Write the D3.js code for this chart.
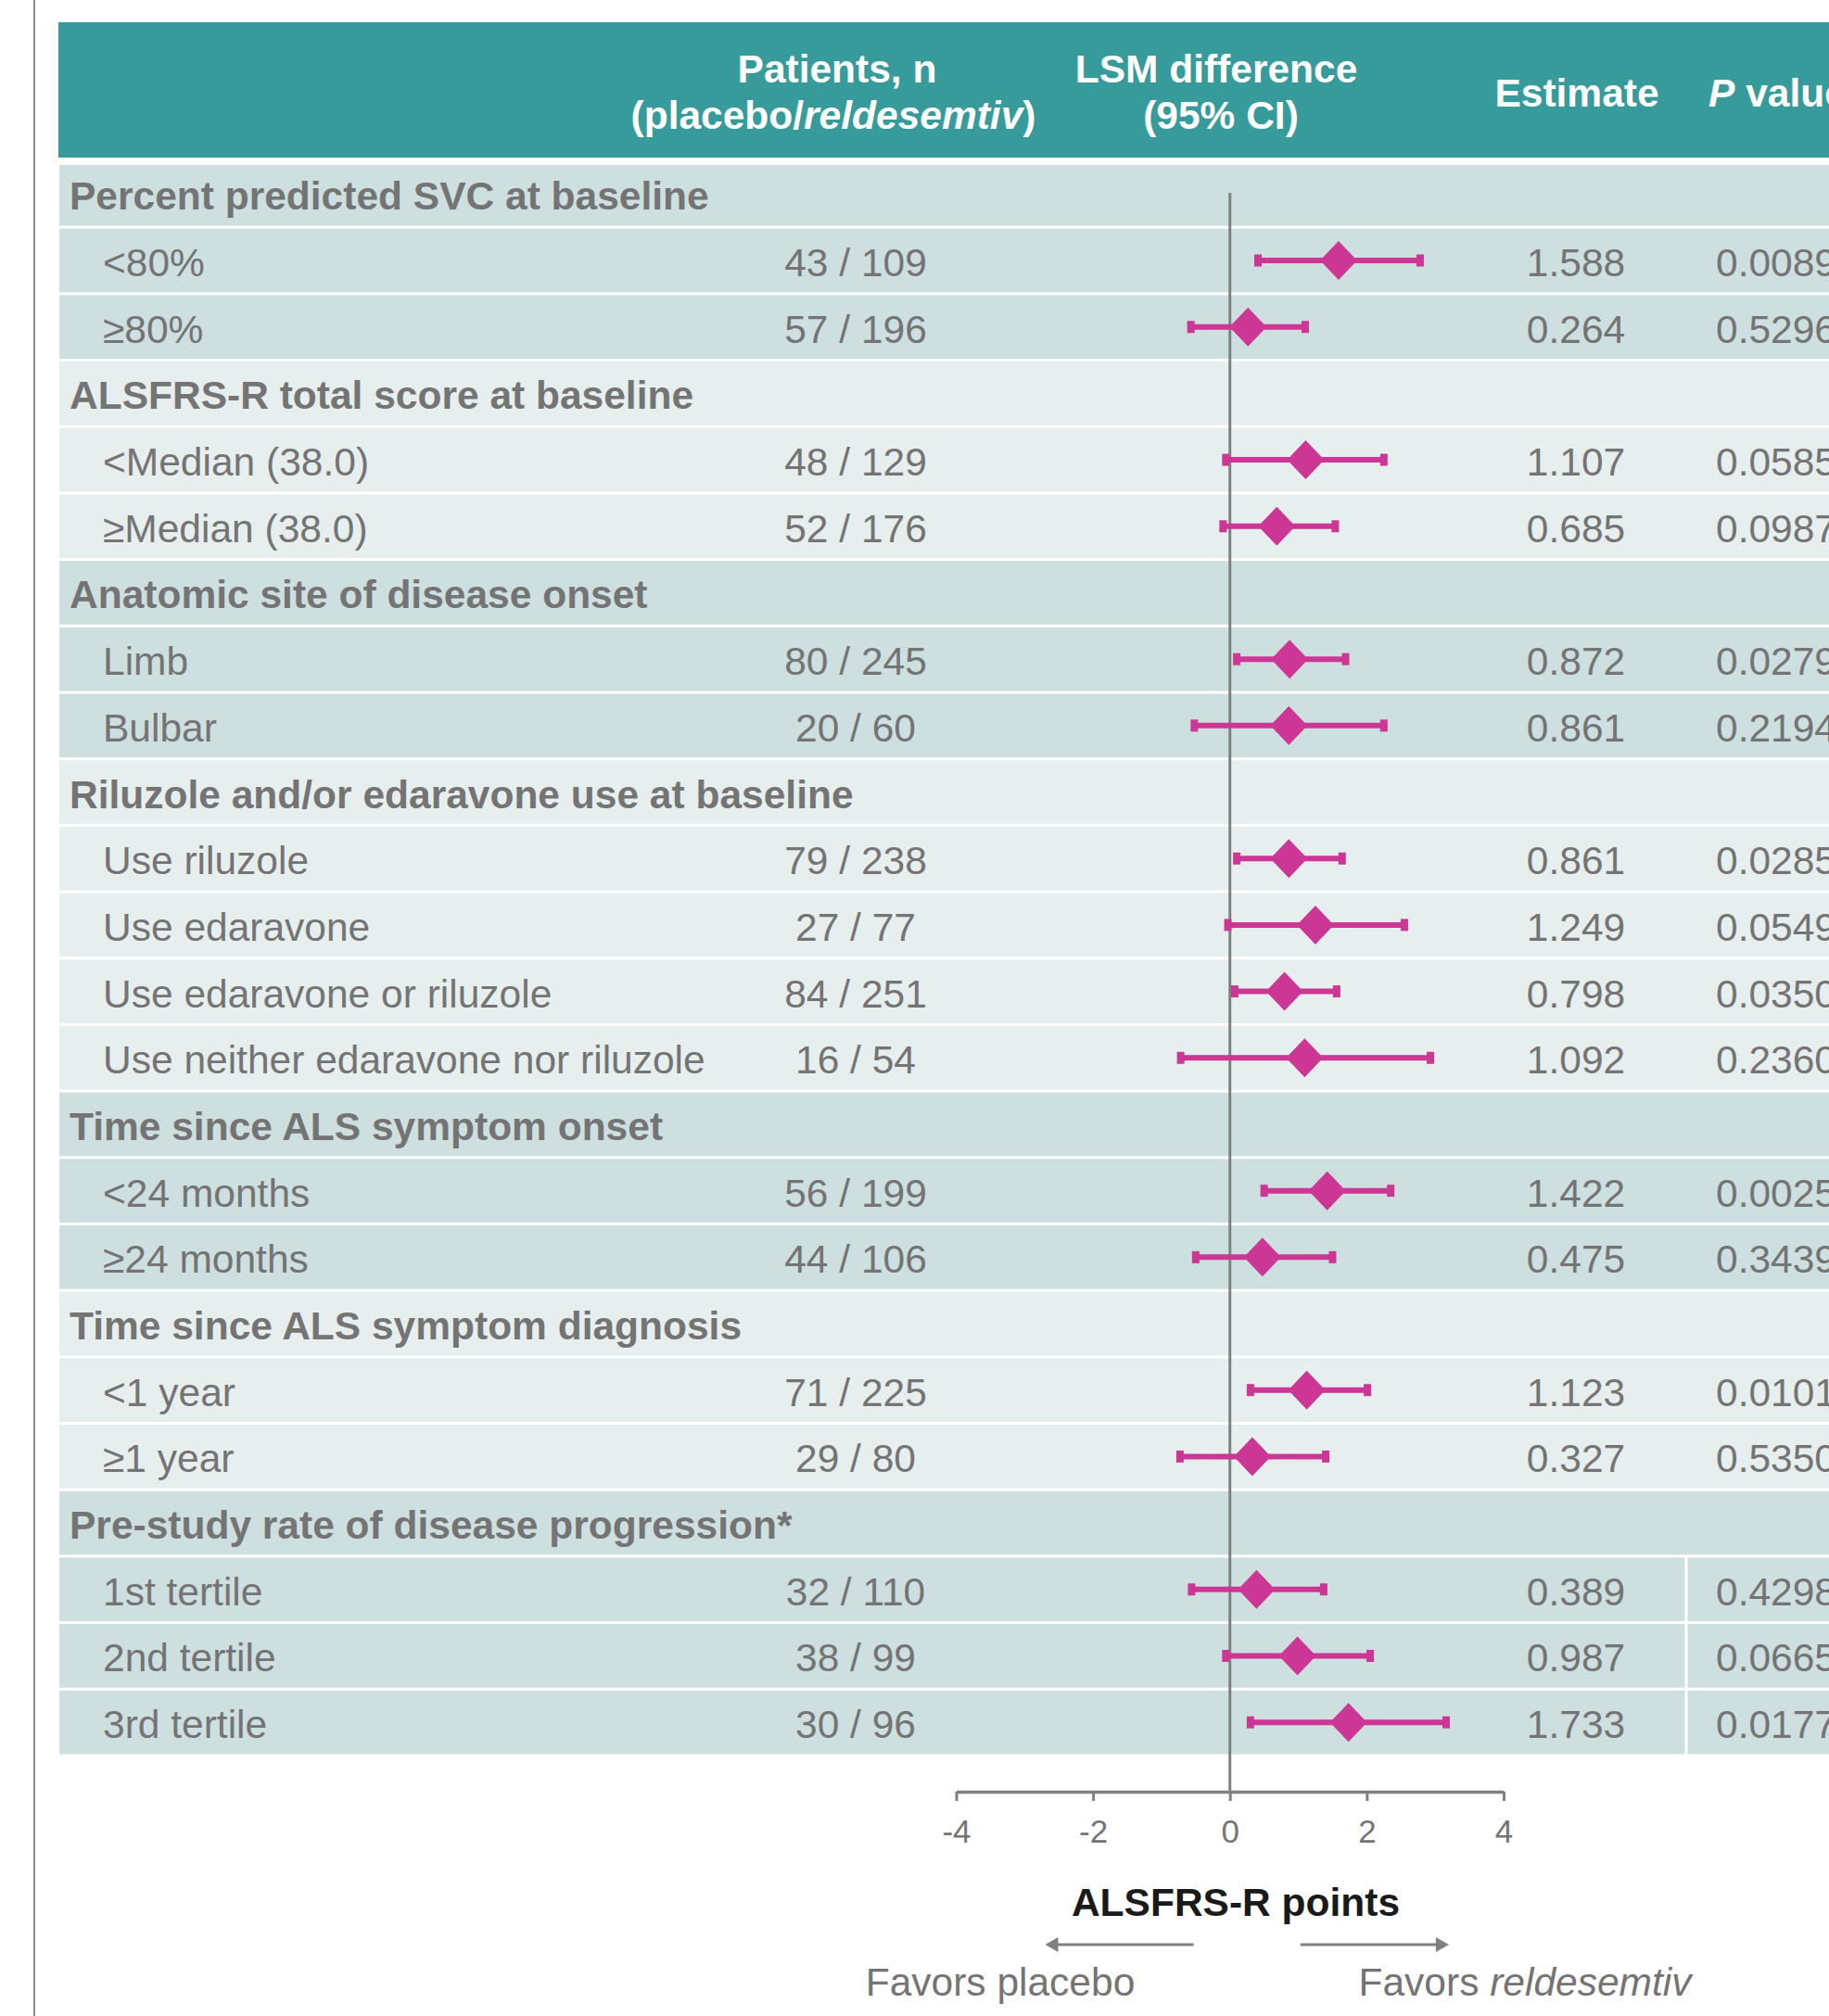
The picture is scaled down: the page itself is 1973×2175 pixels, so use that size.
<!DOCTYPE html>
<html>
<head>
<meta charset="utf-8">
<script src="https://cdn.jsdelivr.net/npm/d3@7"></script>
<style>
  body { margin: 0; background: #fff; }
  svg { display: block; font-family: "Liberation Sans", Arial, sans-serif; }
</style>
</head>
<body>
<svg id="chart"></svg>
<script>
// subgroup data
const sections = [
  "Percent predicted SVC at baseline",
  "ALSFRS-R total score at baseline",
  "Anatomic site of disease onset",
  "Riluzole and/or edaravone use at baseline",
  "Time since ALS symptom onset",
  "Time since ALS symptom diagnosis",
  "Pre-study rate of disease progression*"
];
const sectionOf = [0, 0, 1, 1, 2, 2, 3, 3, 3, 3, 4, 4, 5, 5, 6, 6, 6];
const labels = [
  "<80%", "≥80%", "<Median (38.0)", "≥Median (38.0)", "Limb", "Bulbar",
  "Use riluzole", "Use edaravone", "Use edaravone or riluzole",
  "Use neither edaravone nor riluzole", "<24 months", "≥24 months",
  "<1 year", "≥1 year", "1st tertile", "2nd tertile", "3rd tertile"
];
const patients = [
  "43 / 109", "57 / 196", "48 / 129", "52 / 176", "80 / 245", "20 / 60",
  "79 / 238", "27 / 77", "84 / 251", "16 / 54", "56 / 199", "44 / 106",
  "71 / 225", "29 / 80", "32 / 110", "38 / 99", "30 / 96"
];
const estimates = [1.588, 0.264, 1.107, 0.685, 0.872, 0.861, 0.861, 1.249, 0.798,
  1.092, 1.422, 0.475, 1.123, 0.327, 0.389, 0.987, 1.733];
const ciLow = [0.41, -0.57, -0.06, -0.10, 0.10, -0.52, 0.10, -0.03, 0.07,
  -0.72, 0.50, -0.50, 0.30, -0.73, -0.56, -0.06, 0.30];
const ciHigh = [2.78, 1.10, 2.25, 1.54, 1.69, 2.25, 1.64, 2.55, 1.56,
  2.93, 2.35, 1.50, 2.01, 1.40, 1.37, 2.05, 3.16];
const pValues = ["0.0089", "0.5296", "0.0585", "0.0987", "0.0279", "0.2194",
  "0.0285", "0.0549", "0.0350", "0.2360", "0.0025", "0.3439", "0.0101",
  "0.5350", "0.4298", "0.0665", "0.0177"];
const xTicks = [-4, -2, 0, 2, 4];

const W = 1973, H = 2175;
const teal = "#369b9a", dark = "#cddfdf", light = "#e6efee";
const grey = "#747474", magenta = "#cc3694", lineGrey = "#808080";
const fs = 42.5;

// flatten into table rows: section header then its subgroups
let rows = [];
sections.forEach(function(s, si) {
  rows.push({ type: "section", label: s, sec: si });
  sectionOf.forEach(function(g, i) {
    if (g == si) rows.push({ type: "sub", label: labels[i], sec: si, idx: i });
  });
});

const svg = d3.select("#chart").attr("width", W).attr("height", H);

const x = d3.scaleLinear().domain([-4, 4]).range([1031.5, 1622]);
const y = d3.scaleBand().domain(d3.range(rows.length)).range([173.5, 1894]).padding(0);
const bh = y.bandwidth();

// left border line
svg.append("line").attr("x1", 37).attr("x2", 37).attr("y1", 0).attr("y2", H)
  .attr("stroke", "#8a8a8a").attr("stroke-width", 2);

// header band
svg.append("rect").attr("x", 63).attr("y", 24).attr("width", W - 63).attr("height", 146)
  .attr("fill", teal);

const hdr = svg.append("g").attr("fill", "#fff").attr("font-weight", "bold").attr("font-size", fs);
hdr.append("text").attr("x", 903).attr("y", 89).attr("text-anchor", "middle").text("Patients, n");
let t2 = hdr.append("text").attr("x", 899).attr("y", 139).attr("text-anchor", "middle");
t2.append("tspan").text("(placebo/");
t2.append("tspan").attr("font-style", "italic").text("reldesemtiv");
t2.append("tspan").text(")");
hdr.append("text").attr("x", 1312).attr("y", 89).attr("text-anchor", "middle").text("LSM difference");
hdr.append("text").attr("x", 1317).attr("y", 139).attr("text-anchor", "middle").text("(95% CI)");
hdr.append("text").attr("x", 1701).attr("y", 115).attr("text-anchor", "middle").text("Estimate");
let pv = hdr.append("text").attr("x", 1843).attr("y", 115);
pv.append("tspan").attr("font-style", "italic").text("P");
pv.append("tspan").text(" value");

// row backgrounds
svg.append("g").selectAll("rect").data(rows).enter().append("rect")
  .attr("x", 64)
  .attr("y", (d, i) => i == 0 ? 178 : y(i) + 1.5)
  .attr("width", W - 64)
  .attr("height", (d, i) => i == 0 ? y(i) + bh - 1.5 - 178 : bh - 3)
  .attr("fill", d => d.sec % 2 == 0 ? dark : light);

// white divider in P value column for the tertile rows
const tert = rows.map((d, i) => i).filter(i => rows[i].type == "sub" && rows[i].sec == 6);
svg.append("line")
  .attr("x1", 1819).attr("x2", 1819)
  .attr("y1", y(tert[0])).attr("y2", y(tert[tert.length - 1]) + bh)
  .attr("stroke", "#fff").attr("stroke-width", 3);

// row texts
const txt = svg.append("g").attr("fill", grey).attr("font-size", fs);
rows.forEach(function(d, i) {
  let base = y(i) + bh / 2 + 17;
  if (d.type == "section") {
    txt.append("text").attr("x", 75).attr("y", base).attr("font-weight", "bold").text(d.label);
  } else {
    txt.append("text").attr("x", 111).attr("y", base).text(d.label);
    txt.append("text").attr("x", 923).attr("y", base).attr("text-anchor", "middle").text(patients[d.idx]);
    txt.append("text").attr("x", 1700).attr("y", base).attr("text-anchor", "middle").text(estimates[d.idx].toFixed(3));
    txt.append("text").attr("x", 1851).attr("y", base).text(pValues[d.idx]);
  }
});

// zero reference line
svg.append("line").attr("x1", x(0)).attr("x2", x(0)).attr("y1", 208).attr("y2", 1933)
  .attr("stroke", lineGrey).attr("stroke-width", 3);

// CI whiskers, caps and diamonds
const subs = rows.map((d, i) => ({ d: d, i: i })).filter(r => r.d.type == "sub");
const marks = svg.append("g").selectAll("g").data(subs).enter().append("g")
  .attr("transform", r => `translate(0,${y(r.i) + bh / 2})`);
marks.append("line")
  .attr("x1", r => x(ciLow[r.d.idx])).attr("x2", r => x(ciHigh[r.d.idx]))
  .attr("stroke", magenta).attr("stroke-width", 6);
marks.append("rect").attr("x", r => x(ciLow[r.d.idx]) - 4).attr("y", -6.5)
  .attr("width", 8).attr("height", 13).attr("fill", magenta);
marks.append("rect").attr("x", r => x(ciHigh[r.d.idx]) - 4).attr("y", -6.5)
  .attr("width", 8).attr("height", 13).attr("fill", magenta);
marks.append("path")
  .attr("d", r => {
    let cx = x(estimates[r.d.idx]);
    return `M${cx - 20},0L${cx},-21L${cx + 20},0L${cx},21Z`;
  })
  .attr("fill", magenta);

// x axis
const axis = svg.append("g").attr("transform", "translate(0,1933)")
  .call(d3.axisBottom(x).tickValues(xTicks).tickSize(10).tickSizeOuter(0)
    .tickPadding(20).tickFormat(d => String(d)));
axis.select(".domain").attr("stroke", lineGrey).attr("stroke-width", 3.5);
axis.selectAll(".tick line").attr("stroke", lineGrey).attr("stroke-width", 3);
axis.selectAll(".tick text").attr("fill", grey).attr("font-size", 35)
  .attr("font-family", "'Liberation Sans', Arial, sans-serif");

svg.append("text").attr("x", 1333).attr("y", 2067).attr("text-anchor", "middle")
  .attr("font-size", fs).attr("font-weight", "bold").attr("fill", "#1a1a1a")
  .text("ALSFRS-R points");

// favour arrows
const ay = 2098;
svg.append("line").attr("x1", x(-0.53)).attr("x2", x(-2.6)).attr("y1", ay).attr("y2", ay)
  .attr("stroke", lineGrey).attr("stroke-width", 3);
svg.append("path").attr("d", `M${x(-2.7)},${ay}l14,-8v16z`).attr("fill", lineGrey);
svg.append("line").attr("x1", x(1.03)).attr("x2", x(3.1)).attr("y1", ay).attr("y2", ay)
  .attr("stroke", lineGrey).attr("stroke-width", 3);
svg.append("path").attr("d", `M${x(3.2)},${ay}l-14,-8v16z`).attr("fill", lineGrey);

svg.append("text").attr("x", 1079).attr("y", 2153).attr("text-anchor", "middle")
  .attr("font-size", fs).attr("fill", grey).text("Favors placebo");
let fr = svg.append("text").attr("x", 1645).attr("y", 2153).attr("text-anchor", "middle")
  .attr("font-size", fs).attr("fill", grey);
fr.append("tspan").text("Favors ");
fr.append("tspan").attr("font-style", "italic").text("reldesemtiv");
</script>
</body>
</html>
